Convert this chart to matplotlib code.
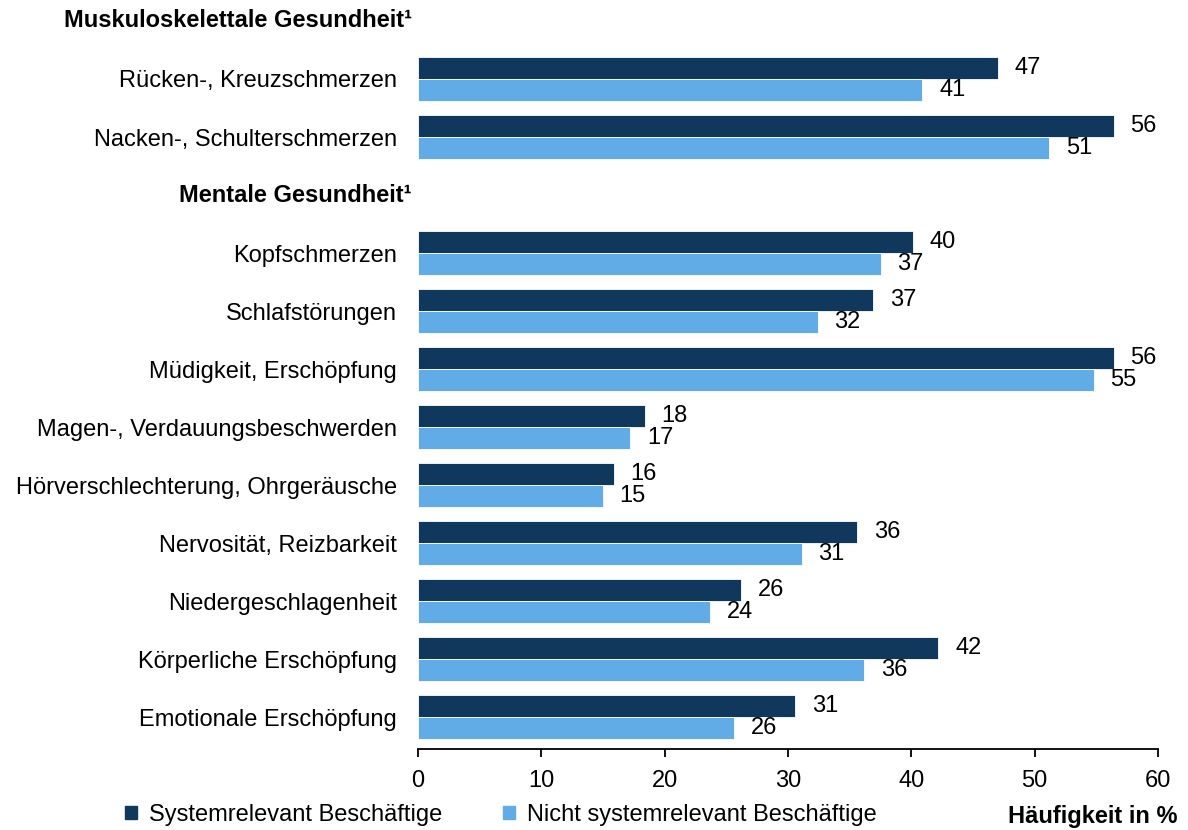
import matplotlib.pyplot as plt
from matplotlib.patches import Patch
import numpy as np

plt.rcParams['font.family'] = ['Liberation Sans', 'DejaVu Sans']

# rows top to bottom; header rows have no values
rows = [
    'Muskuloskelettale Gesundheit¹',
    'Rücken-, Kreuzschmerzen',
    'Nacken-, Schulterschmerzen',
    'Mentale Gesundheit¹',
    'Kopfschmerzen',
    'Schlafstörungen',
    'Müdigkeit, Erschöpfung',
    'Magen-, Verdauungsbeschwerden',
    'Hörverschlechterung, Ohrgeräusche',
    'Nervosität, Reizbarkeit',
    'Niedergeschlagenheit',
    'Körperliche Erschöpfung',
    'Emotionale Erschöpfung',
]
is_header = [True, False, False, True] + [False] * 9

systemrelevant = [None, 47.0, 56.4, None, 40.1, 36.9, 56.4, 18.4, 15.9, 35.6, 26.2, 42.2, 30.6]
nicht_systemrelevant = [None, 40.9, 51.2, None, 37.5, 32.4, 54.8, 17.2, 15.0, 31.1, 23.7, 36.2, 25.6]
sys_labels = [None, 47, 56, None, 40, 37, 56, 18, 16, 36, 26, 42, 31]
nicht_labels = [None, 41, 51, None, 37, 32, 55, 17, 15, 31, 24, 36, 26]

dark = '#10375c'
light = '#61abe6'

fig = plt.figure(figsize=(11.88, 8.3), dpi=100)
ax = fig.add_axes([418 / 1188, 1 - 749 / 830, 740 / 1188, (749 - 45) / 830])

bh = 0.38
fs = 17
for i, (lab, hdr) in enumerate(zip(rows, is_header)):
    if hdr:
        ax.text(-0.5, i, lab, ha='right', va='center', fontsize=fs, fontweight='bold')
        continue
    ax.barh(i - bh / 2, systemrelevant[i], height=bh, color=dark, edgecolor='white', linewidth=0.6)
    ax.barh(i + bh / 2, nicht_systemrelevant[i], height=bh, color=light, edgecolor='white', linewidth=0.6)
    ax.text(systemrelevant[i] + 1.35, i - bh / 2, str(sys_labels[i]), va='center', ha='left', fontsize=fs)
    ax.text(nicht_systemrelevant[i] + 1.35, i + bh / 2, str(nicht_labels[i]), va='center', ha='left', fontsize=fs)

ytick_pos = [i for i, h in enumerate(is_header) if not h]
ax.set_yticks(ytick_pos)
ax.set_yticklabels([rows[i] for i in ytick_pos], fontsize=fs)
ax.tick_params(axis='y', length=0, pad=15)
ax.set_ylim(12.55, 0.414)
ax.set_xlim(0, 60)
ax.set_xticks(np.arange(0, 61, 10))
ax.tick_params(axis='x', labelsize=fs, length=6, width=1.3, direction='out', pad=9)
for s in ['top', 'right', 'left']:
    ax.spines[s].set_visible(False)
ax.spines['bottom'].set_linewidth(1.3)

handles = [Patch(color=dark, label='Systemrelevant Beschäftige'),
           Patch(color=light, label='Nicht systemrelevant Beschäftige')]
fig.legend(handles=handles, loc='center left', bbox_to_anchor=(125 / 1188, 1 - 815 / 830),
           ncol=2, frameon=False, fontsize=fs, handlelength=0.5, handleheight=0.5,
           handletextpad=0.5, columnspacing=2.6, borderpad=0, borderaxespad=0)

fig.text(1178 / 1188, 1 - 816 / 830, 'Häufigkeit in %', ha='right', va='center',
         fontsize=fs, fontweight='bold')

fig.savefig('out.png', dpi=100)
